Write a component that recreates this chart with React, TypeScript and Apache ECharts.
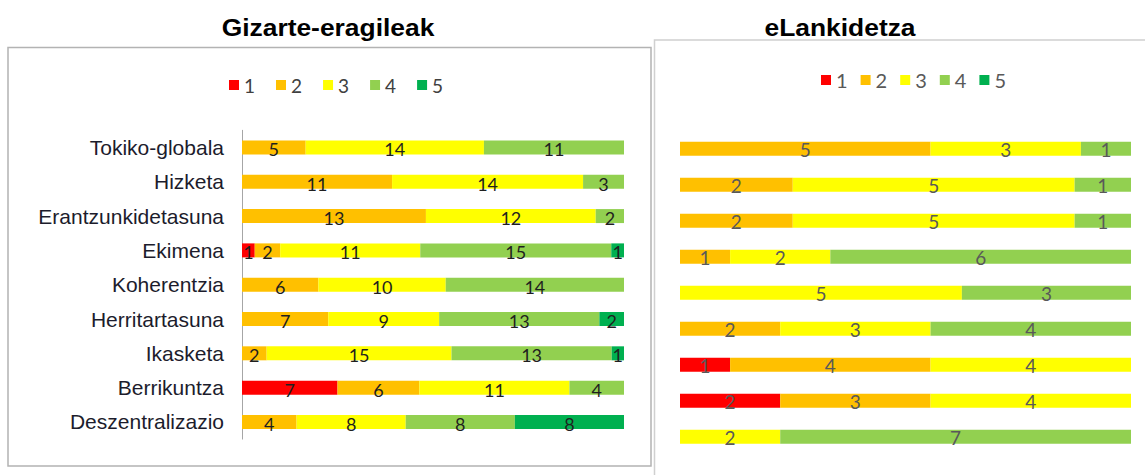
import React, { useEffect, useRef } from "react";
import * as echarts from "echarts";

const CATEGORIES = [
  "Tokiko-globala",
  "Hizketa",
  "Erantzunkidetasuna",
  "Ekimena",
  "Koherentzia",
  "Herritartasuna",
  "Ikasketa",
  "Berrikuntza",
  "Deszentralizazio",
];
const LEVELS = ["1", "2", "3", "4", "5"];
const COLORS = ["#FF0000", "#FFC000", "#FFFF00", "#92D050", "#00B050"];

// Gizarte-eragileak (counts per level)
const GIZARTE_1 = [0, 0, 0, 1, 0, 0, 0, 7, 0];
const GIZARTE_2 = [5, 11, 13, 2, 6, 7, 2, 6, 4];
const GIZARTE_3 = [14, 14, 12, 11, 10, 9, 15, 11, 8];
const GIZARTE_4 = [11, 3, 2, 15, 14, 13, 13, 4, 8];
const GIZARTE_5 = [0, 0, 0, 1, 0, 2, 1, 0, 8];

// eLankidetza (counts per level)
const ELANK_1 = [0, 0, 0, 0, 0, 0, 1, 2, 0];
const ELANK_2 = [5, 2, 2, 1, 0, 2, 4, 3, 0];
const ELANK_3 = [3, 5, 5, 2, 5, 3, 4, 4, 2];
const ELANK_4 = [1, 1, 1, 6, 3, 4, 0, 0, 7];
const ELANK_5 = [0, 0, 0, 0, 0, 0, 0, 0, 0];

const TITLE_LEFT = "Gizarte-eragileak";
const TITLE_RIGHT = "eLankidetza";

function buildSeries(
  counts: number[][],
  idx: number,
  stack: string,
  labelColor: string,
  fontSize: number,
  offsetY: number
) {
  const totals = CATEGORIES.map((_, j) =>
    counts.reduce((s, arr) => s + arr[j], 0)
  );
  return counts.map((arr, i) => ({
    type: "bar",
    name: LEVELS[i],
    stack,
    xAxisIndex: idx,
    yAxisIndex: idx,
    barWidth: 14,
    itemStyle: { color: COLORS[i] },
    emphasis: { disabled: true },
    label: {
      show: true,
      position: "inside",
      color: labelColor,
      fontFamily: "Lato, 'Noto Sans', sans-serif",
      fontSize,
      offset: [0, offsetY],
      formatter: (p: any) => String(p.data.count),
    },
    data: arr.map((c, j) =>
      c > 0
        ? { value: (c / totals[j]) * 100, count: c }
        : { value: 0, count: 0, label: { show: false } }
    ),
  }));
}

export default function App() {
  const ref = useRef<HTMLDivElement>(null);
  useEffect(() => {
    if (!ref.current) return;
    const chart = echarts.init(ref.current, undefined, { renderer: "svg" });
    const leftCounts = [GIZARTE_1, GIZARTE_2, GIZARTE_3, GIZARTE_4, GIZARTE_5];
    const rightCounts = [ELANK_1, ELANK_2, ELANK_3, ELANK_4, ELANK_5];
    chart.setOption({
      animation: false,
      backgroundColor: "#ffffff",
      graphic: [
        {
          type: "rect",
          z: -1,
          shape: { x: 8, y: 47.5, width: 643, height: 418.5 },
          style: { fill: "#ffffff", stroke: "#b3b3b3", lineWidth: 1.5 },
        },
        {
          type: "rect",
          z: -1,
          shape: { x: 654.5, y: 40, width: 600, height: 500 },
          style: { fill: "#ffffff", stroke: "#d0d0d0", lineWidth: 1.5 },
        },
        {
          type: "text",
          x: 328,
          y: 27,
          scaleX: 1.1,
          style: {
            text: TITLE_LEFT,
            fontFamily: "'Liberation Sans', Arial, sans-serif",
            fontWeight: "bold",
            fontSize: 24,
            fill: "#000000",
            align: "center",
            verticalAlign: "middle",
          },
        },
        {
          type: "text",
          x: 840,
          y: 27,
          scaleX: 1.1,
          style: {
            text: TITLE_RIGHT,
            fontFamily: "'Liberation Sans', Arial, sans-serif",
            fontWeight: "bold",
            fontSize: 24,
            fill: "#000000",
            align: "center",
            verticalAlign: "middle",
          },
        },
      ],
      legend: [
        {
          data: LEVELS,
          left: 224,
          top: 70,
          icon: "rect",
          itemWidth: 10,
          itemHeight: 10,
          itemGap: 21,
          selectedMode: false,
          textStyle: {
            fontFamily: "Lato, 'Noto Sans', sans-serif",
            fontSize: 19,
            color: "#404040",
            lineHeight: 20,
          },
        },
        {
          data: LEVELS,
          left: 816,
          top: 65,
          icon: "rect",
          itemWidth: 10,
          itemHeight: 10,
          itemGap: 13,
          selectedMode: false,
          textStyle: {
            fontFamily: "Lato, 'Noto Sans', sans-serif",
            fontSize: 20,
            color: "#595959",
            lineHeight: 20,
          },
        },
      ],
      grid: [
        { left: 242, top: 130.3, width: 382, height: 308.8 },
        { left: 680, top: 130.7, width: 451, height: 324 },
      ],
      xAxis: [
        { type: "value", gridIndex: 0, min: 0, max: 100, show: false },
        { type: "value", gridIndex: 1, min: 0, max: 100, show: false },
      ],
      yAxis: [
        {
          type: "category",
          gridIndex: 0,
          data: CATEGORIES,
          inverse: true,
          axisLine: { show: true, lineStyle: { color: "#a6a6a6", width: 1 } },
          axisTick: { show: false },
          splitLine: { show: false },
          axisLabel: {
            fontFamily: "'Liberation Sans', Arial, sans-serif",
            fontSize: 21,
            color: "#1c1c2c",
            margin: 18,
          },
        },
        {
          type: "category",
          gridIndex: 1,
          data: CATEGORIES,
          inverse: true,
          show: false,
        },
      ],
      series: [
        ...buildSeries(leftCounts, 0, "left", "#1f1f1f", 18, 2),
        ...buildSeries(rightCounts, 1, "right", "#595959", 19, 1),
      ],
    });
    return () => chart.dispose();
  }, []);
  return (
    <div
      ref={ref}
      style={{ position: "absolute", left: 0, top: 0, width: 1145, height: 475 }}
    />
  );
}
